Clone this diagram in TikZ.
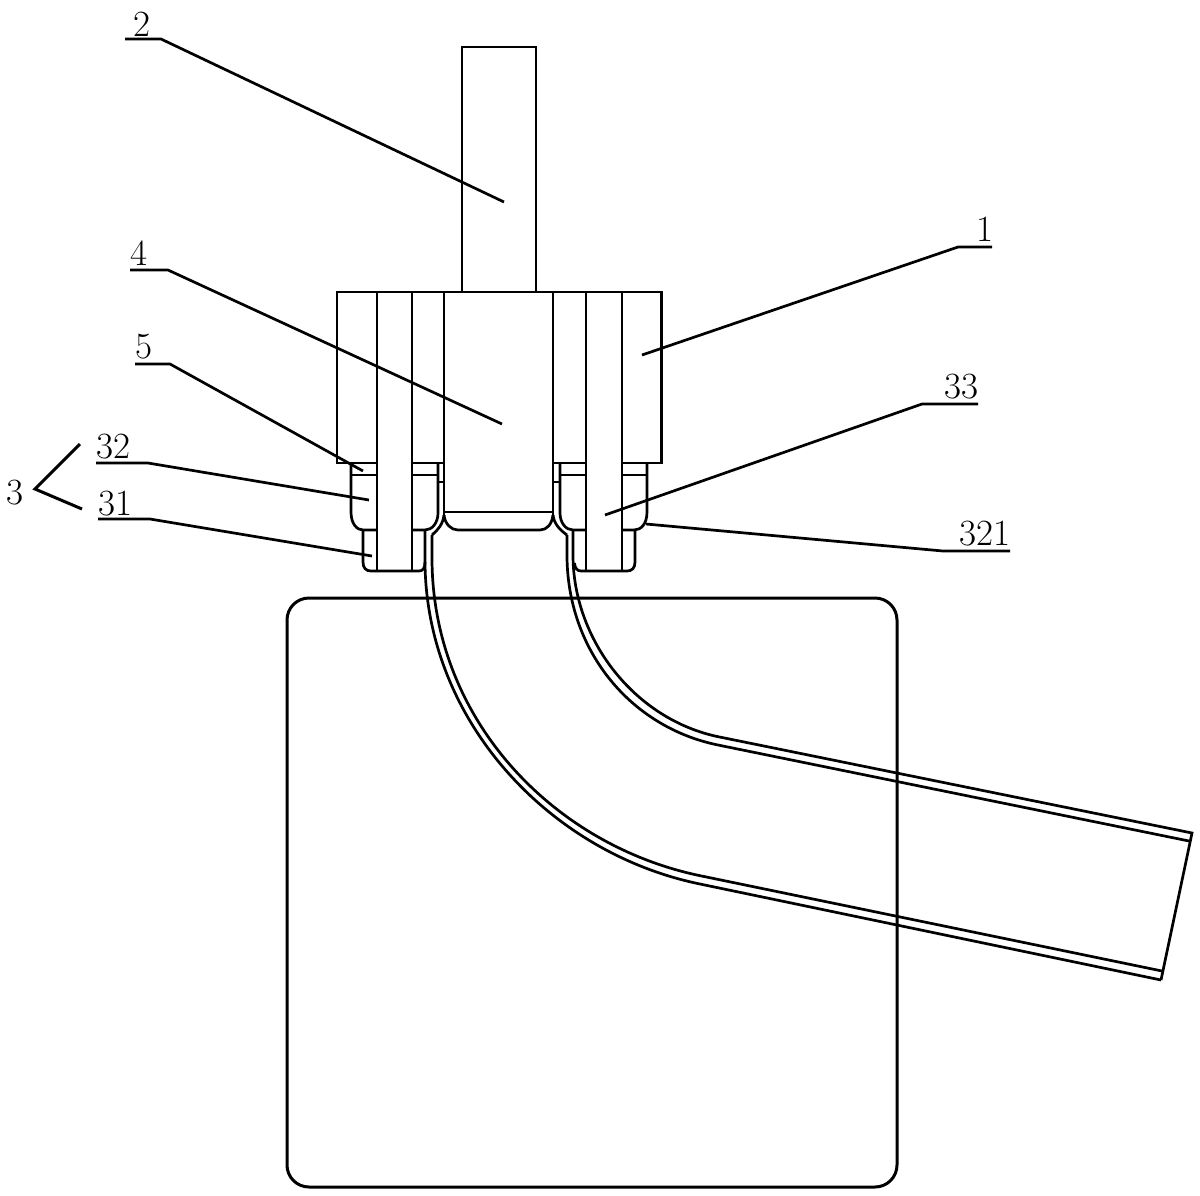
\documentclass[tikz,border=0pt]{standalone}
\tikzset{
  body/.style={line width=2.7pt,line join=miter,line cap=butt},
  thin part/.style={line width=2.2pt},
  tube/.style={line width=2.7pt,line join=miter},
  leader/.style={line width=2.7pt,line join=round},
  num/.style={inner sep=0pt,font=\fontsize{37}{37}\selectfont,text=black}
}
\begin{document}
\begin{tikzpicture}[x=1pt,y=-1pt]
\useasboundingbox (0,0) rectangle (1200,1195);
\fill[white] (0,0) rectangle (1200,1195);
% bottle
\draw[line width=3pt,rounded corners=22pt] (287,598) rectangle (897,1187);
% rod and block
\draw[body] (462,292) -- (462,47) -- (536,47) -- (536,292);
\draw[body] (377,463) -- (337,463) -- (337,292) -- (661.5,292) -- (661.5,463) -- (622,463);
\draw[body] (412,463) -- (444,463);
\draw[body] (553,463) -- (586,463);
% through pieces
\foreach \x in {377,412,586,622} \draw[body] (\x,292) -- (\x,571);
\foreach \x in {444,553} \draw[body] (\x,292) -- (\x,515);
% left collar
\draw[thin part] (412,475) -- (438,475);
\draw[thin part] (351,475) -- (377,475);
\draw[thin part] (438,482) -- (444,482);
\draw[body] (351,463) -- (351,512) .. controls (351,524) and (357,530) .. (363,530) -- (377,530);
\draw[body] (363,530) -- (363,562) .. controls (363,568) and (366,571) .. (371,571) -- (419,571) .. controls (423,571) and (425,568) .. (425,562);
\draw[body] (438,463) -- (438,513) .. controls (438,523) and (432,530) .. (425,530) -- (412,530);
% right collar
\draw[thin part] (560,475) -- (586,475);
\draw[thin part] (622,475) -- (647,475);
\draw[thin part] (553,482) -- (560,482);
\draw[body] (647,463) -- (647,512) .. controls (647,524) and (641,530) .. (634,530) -- (622,530);
\draw[body] (635,530) -- (635,562) .. controls (635,568) and (632,571) .. (627,571) -- (581,571) .. controls (577,571) and (575,568) .. (574.5,563);
\draw[body] (560,463) -- (560,513) .. controls (560,523) and (566,530) .. (573,530) -- (586,530);
% central plug
\draw[thin part] (444,512) -- (553,512);
\draw[body] (444,515) .. controls (445,524) and (451,530) .. (458,530) -- (540,530) .. controls (547,530) and (552,524) .. (553,515);
% tube necks
\draw[tube] (444,515) .. controls (443,524) and (438,530) .. (432,535);
\draw[tube] (553,515) .. controls (554,524) and (560,530) .. (567,535);
% tube walls
\draw[tube] (425,530) -- (425,560) .. controls (425,720) and (549,853) .. (700,884) -- (1161,980);
\draw[tube] (432,535) -- (432,558) .. controls (432,720) and (554,846) .. (701.6,876) -- (1162,971);
\draw[tube] (567,535) -- (567,555) .. controls (567,650) and (630,727) .. (718,745) -- (1189,841);
\draw[tube] (573,530) -- (573,555) .. controls (573,640) and (635,720) .. (719.6,737) -- (1192,833) -- (1161,980);
% labels
\node[num] (n2) at (142,24) {2};
\node[num] (n4) at (139,253) {4};
\node[num] (n1) at (985,229) {1};
\node[num] (n5) at (144,347) {5};
\node[num] (n33) at (961,387) {33};
\node[num] (n32) at (113,447) {32};
\node[num] (n31) at (115,504) {31};
\node[num] (n321) at (985,534) {321};
\node[num] (n3) at (15,493) {3};
% leader coordinates
\coordinate (a2) at (125,39);  \coordinate (b2) at (161,39);  \coordinate (c2) at (504,202);
\coordinate (a4) at (130,270); \coordinate (b4) at (168,270); \coordinate (c4) at (502,424);
\coordinate (a1) at (992,247); \coordinate (b1) at (958,247); \coordinate (c1) at (642,355);
\coordinate (a5) at (135,364); \coordinate (b5) at (170,364); \coordinate (c5) at (363,471);
\coordinate (a33) at (978,404);\coordinate (b33) at (922,404);\coordinate (c33) at (605,515);
\coordinate (a32) at (96,463); \coordinate (b32) at (148,463);\coordinate (c32) at (369,500);
\coordinate (a31) at (98,519); \coordinate (b31) at (150,519);\coordinate (c31) at (372,556);
\coordinate (a321) at (1010,551);\coordinate (b321) at (943,551);\coordinate (c321) at (646,524);
\foreach \k in {2,4,1,5,33,32,31,321} \draw[leader] (a\k) -- (b\k) -- (c\k);
% brace of 3
\coordinate (t3) at (80,444); \coordinate (v3) at (35,489); \coordinate (u3) at (82,509);
\draw[leader,line width=3pt,line join=miter] (t3) -- (v3) -- (u3);
\end{tikzpicture}
\end{document}
